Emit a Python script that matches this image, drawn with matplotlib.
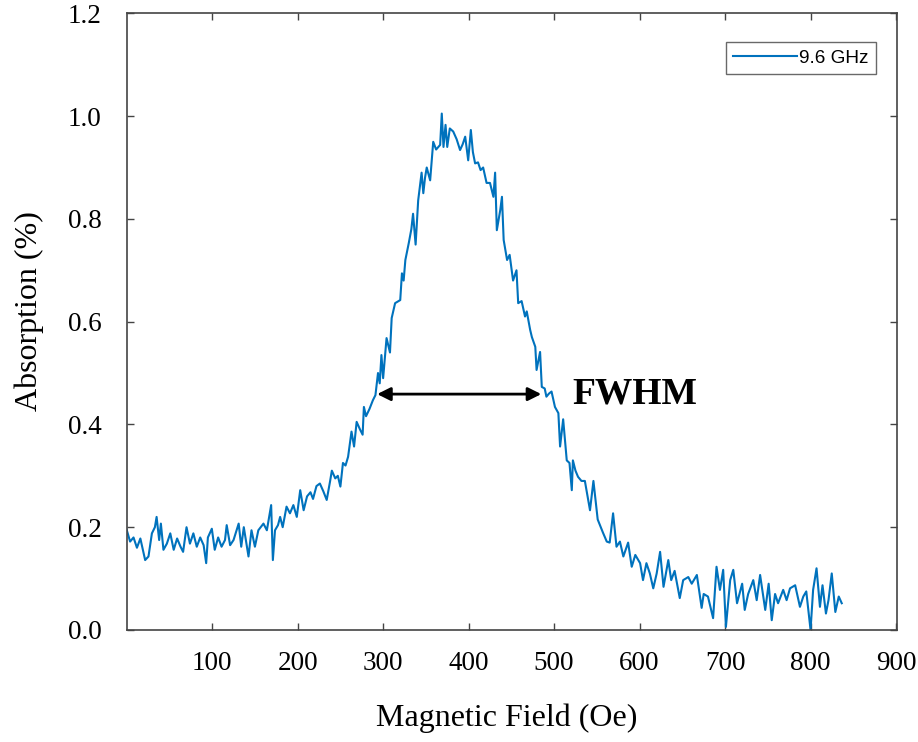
import matplotlib
matplotlib.use("Agg")
import matplotlib.pyplot as plt

# Field (Oe) and absorption values
field = [0, 4, 8, 12, 16, 21.6, 25.5, 29.5, 33, 35, 38, 40, 43, 47, 51, 55, 59, 63, 66, 70,
         74, 78, 82, 86, 90, 93, 95, 99.6, 103, 107, 111, 115, 117, 121, 125, 131, 134, 137,
         142.5, 146, 150, 154, 160, 164, 169, 171, 173.5, 177, 179.5, 182.5, 187, 191, 195,
         199, 203, 207, 211, 215, 218, 222, 226, 230, 234, 238, 240, 244, 247, 250, 253, 256,
         259, 263, 266, 269, 273, 276, 277.5, 280, 284, 288, 291, 294, 296, 298, 300, 304,
         308, 310, 314, 318, 320, 322, 324, 326, 330, 333, 335, 338, 341, 345, 347, 349, 351,
         355, 357, 358.6, 362, 366.7, 368.6, 370.6, 373, 375, 378, 382, 386, 390, 393, 396,
         399.5, 402.6, 405, 407.6, 411, 414, 417, 421, 425, 429, 431, 433, 437, 439, 441, 445,
         448, 452, 456, 458, 462, 466, 468, 472, 474, 478, 479.5, 483.6, 485.6, 489, 491, 494,
         497, 501, 505, 507, 510.6, 514.8, 518, 520.7, 522, 525, 528, 532, 536, 542, 546, 551,
         557, 561.6, 565, 569, 573, 577, 581, 586.6, 590.8, 595, 600.6, 604, 608, 612, 616,
         620, 624, 628, 633.6, 637, 641, 647, 651, 657, 661, 667, 672.6, 675, 680, 686, 690,
         694, 697.8, 701, 706, 709.6, 714, 720, 723, 727, 733, 737, 741, 747, 751, 754.6,
         758.5, 762, 768, 772, 776, 782, 787.6, 791.5, 795, 800, 803, 807, 811, 814, 818, 821,
         824.8, 829, 833, 836.5]
absorption = [0.195, 0.172, 0.18, 0.16, 0.178, 0.136, 0.143, 0.188, 0.2, 0.22, 0.175, 0.207,
              0.156, 0.168, 0.188, 0.156, 0.178, 0.162, 0.152, 0.2, 0.168, 0.188, 0.162, 0.18,
              0.165, 0.13, 0.18, 0.197, 0.156, 0.18, 0.162, 0.175, 0.204, 0.165, 0.175, 0.207,
              0.162, 0.2, 0.143, 0.194, 0.162, 0.194, 0.207, 0.194, 0.243, 0.136, 0.194, 0.204,
              0.22, 0.2, 0.24, 0.227, 0.243, 0.22, 0.272, 0.233, 0.26, 0.268, 0.255, 0.28, 0.285,
              0.27, 0.253, 0.29, 0.31, 0.295, 0.3, 0.279, 0.325, 0.32, 0.337, 0.386, 0.357,
              0.405, 0.39, 0.38, 0.434, 0.416, 0.43, 0.447, 0.457, 0.5, 0.48, 0.535, 0.49, 0.568,
              0.54, 0.607, 0.636, 0.64, 0.642, 0.694, 0.68, 0.72, 0.753, 0.78, 0.81, 0.75, 0.836,
              0.89, 0.85, 0.88, 0.9, 0.875, 0.918, 0.95, 0.935, 0.944, 1.005, 0.94, 0.983, 0.94,
              0.976, 0.97, 0.955, 0.934, 0.945, 0.96, 0.914, 0.973, 0.93, 0.908, 0.91, 0.895,
              0.9, 0.87, 0.87, 0.843, 0.89, 0.778, 0.817, 0.843, 0.759, 0.72, 0.73, 0.68, 0.70,
              0.636, 0.64, 0.61, 0.62, 0.584, 0.57, 0.551, 0.506, 0.541, 0.473, 0.47, 0.454,
              0.46, 0.464, 0.434, 0.422, 0.357, 0.41, 0.33, 0.325, 0.272, 0.33, 0.31, 0.298,
              0.29, 0.29, 0.233, 0.29, 0.215, 0.19, 0.172, 0.17, 0.227, 0.162, 0.172, 0.143,
              0.17, 0.123, 0.146, 0.13, 0.097, 0.13, 0.11, 0.081, 0.11, 0.152, 0.084, 0.136,
              0.097, 0.115, 0.062, 0.097, 0.103, 0.09, 0.107, 0.043, 0.07, 0.065, 0.023, 0.123,
              0.078, 0.117, 0.006, 0.097, 0.117, 0.052, 0.09, 0.039, 0.07, 0.097, 0.058, 0.107,
              0.039, 0.09, 0.019, 0.07, 0.052, 0.078, 0.058, 0.081, 0.087, 0.045, 0.065, 0.075,
              0.0, 0.078, 0.12, 0.045, 0.087, 0.032, 0.058, 0.11, 0.035, 0.065, 0.052]

xticks = [100, 200, 300, 400, 500, 600, 700, 800, 900]
yticks = [0.0, 0.2, 0.4, 0.6, 0.8, 1.0, 1.2]
fwhm_left, fwhm_right, fwhm_level = 293, 485, 0.459
series_label = "9.6 GHz"

serif = ["Liberation Serif", "DejaVu Serif"]

fig = plt.figure(figsize=(9.18, 7.42), dpi=100)
ax = fig.add_axes([0.138, 0.151, 0.839, 0.831])

ax.plot(field, absorption, color="#0072BD", lw=1.5, label=series_label)

ax.set_xlim(0, 901)
ax.set_ylim(0, 1.2)
ax.set_xticks(xticks)
ax.set_yticks(yticks)
ax.set_xticklabels([str(t) for t in xticks], fontfamily=serif, fontsize=19.5)
ax.set_yticklabels([f"{t:.1f}" for t in yticks], fontfamily=serif, fontsize=19.5)
ax.tick_params(direction="in", length=5, width=1, color="#444444",
               top=True, right=True)
ax.tick_params(axis="x", pad=15)
ax.tick_params(axis="y", pad=18)
for s in ax.spines.values():
    s.set_color("#444444")
    s.set_linewidth(1.2)

ax.set_xlabel("Magnetic Field (Oe)", fontfamily=serif, fontsize=23)
ax.set_ylabel("Absorption (%)", fontfamily=serif, fontsize=23)
ax.xaxis.set_label_coords(0.494, -0.1426)
ax.xaxis.label.set_verticalalignment("center")
ax.yaxis.set_label_coords(-0.1265, 0.517)
ax.yaxis.label.set_verticalalignment("center")

ax.annotate("", xy=(fwhm_left, fwhm_level), xytext=(fwhm_right, fwhm_level),
            arrowprops=dict(arrowstyle="<|-|>", color="black", lw=2, mutation_scale=20,
                            shrinkA=0, shrinkB=0))
ax.text(521, fwhm_level, "FWHM", fontfamily=serif, fontweight="bold", fontsize=27,
        va="center", ha="left")

leg = ax.legend(loc="upper right", bbox_to_anchor=(0.973, 0.953), borderaxespad=0,
                frameon=True, fancybox=False, handlelength=3.4, handletextpad=0.1,
                borderpad=0.38, prop={"family": "Liberation Sans", "size": 13.7})
leg.get_frame().set_edgecolor("#444444")
leg.get_frame().set_linewidth(1.0)

fig.savefig("out.png", dpi=100)
